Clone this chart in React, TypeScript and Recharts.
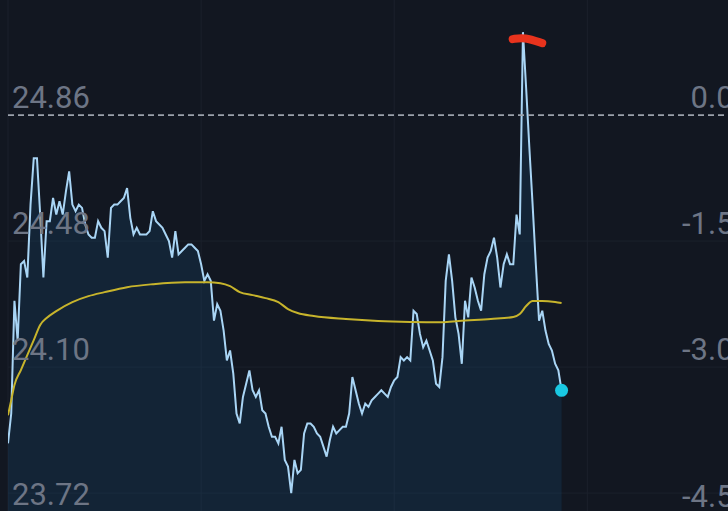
import React from "react";
import {
  ComposedChart,
  Area,
  Line,
  XAxis,
  YAxis,
  CartesianGrid,
  ReferenceLine,
  ReferenceDot,
} from "recharts";

// ---- data ----
const prevClose = 24.86;

// one price per minute, minute 0 .. 172
const prices = [
  23.87, 23.96, 24.30, 24.18, 24.41, 24.42, 24.37, 24.59, 24.73, 24.73,
  24.56, 24.37, 24.54, 24.54, 24.61, 24.56, 24.60, 24.56, 24.63, 24.69,
  24.59, 24.57, 24.59, 24.58, 24.53, 24.50, 24.49, 24.49, 24.54, 24.52,
  24.51, 24.43, 24.58, 24.59, 24.59, 24.60, 24.61, 24.64, 24.55, 24.50,
  24.52, 24.50, 24.50, 24.50, 24.51, 24.57, 24.54, 24.53, 24.52, 24.50,
  24.48, 24.43, 24.51, 24.44, 24.45, 24.46, 24.47, 24.47, 24.46, 24.45,
  24.41, 24.36, 24.38, 24.36, 24.24, 24.29, 24.27, 24.21, 24.12, 24.15,
  24.08, 23.96, 23.93, 24.01, 24.05, 24.09, 24.03, 24.01, 24.03, 23.97,
  23.96, 23.92, 23.89, 23.89, 23.87, 23.92, 23.82, 23.80, 23.72, 23.82,
  23.78, 23.79, 23.90, 23.93, 23.93, 23.92, 23.90, 23.89, 23.86, 23.83,
  23.88, 23.92, 23.90, 23.91, 23.92, 23.92, 23.96, 24.07, 24.03, 23.99,
  23.96, 23.99, 23.98, 24.00, 24.01, 24.02, 24.03, 24.02, 24.01, 24.04,
  24.06, 24.07, 24.13, 24.12, 24.13, 24.12, 24.27, 24.26, 24.20, 24.16,
  24.18, 24.15, 24.12, 24.05, 24.04, 24.13, 24.36, 24.44, 24.36, 24.25,
  24.20, 24.11, 24.30, 24.25, 24.37, 24.34, 24.30, 24.27, 24.38, 24.43,
  24.45, 24.49, 24.43, 24.34, 24.41, 24.44, 24.41, 24.41, 24.56, 24.50,
  25.11, 24.94, 24.76, 24.59, 24.41, 24.24, 24.27, 24.21, 24.17, 24.15,
  24.11, 24.09, 24.03,
];

// average price line (read at selected minutes)
const avgMinutes = [
  0, 1, 2, 4, 6, 8, 10, 12, 15, 20, 25, 30, 37, 45, 55, 62, 66, 69, 72, 76,
  80, 84, 87, 90, 95, 105, 115, 125, 135, 140, 150, 157, 159, 161, 163, 166,
  170, 172,
];
const avgValues = [
  23.955, 24.0, 24.046, 24.091, 24.136, 24.181, 24.227, 24.248, 24.269,
  24.296, 24.314, 24.326, 24.341, 24.35, 24.356, 24.356, 24.353, 24.344,
  24.326, 24.317, 24.308, 24.296, 24.275, 24.263, 24.254, 24.245, 24.239,
  24.236, 24.235, 24.239, 24.245, 24.251, 24.26, 24.284, 24.299, 24.299,
  24.296, 24.293,
];

const priceTicks = [24.86, 24.48, 24.1, 23.72];
const pctTicks = [0, -1.53, -3.06, -4.59];
const gridMinutes = [0, 60, 120, 180];
const gridPrices = [24.48, 24.1, 23.72];

// hand-drawn red annotation near the high
const markMinutes = [156.8, 160.5, 166];
const markValues = [25.089, 25.095, 25.077];

// ---- layout / style ----
const W = 728;
const H = 511;
const priceDomain: [number, number] = [23.666, 25.207];
const minuteDomain: [number, number] = [0, 223.4];
const pctDomain: [number, number] = [
  (priceDomain[0] / prevClose - 1) * 100,
  (priceDomain[1] / prevClose - 1) * 100,
];

const BG = "#121721";
const LABEL = "#6d7585";
const FONT = "Roboto, 'Noto Sans', sans-serif";

const avgMap = new Map<number, number>();
avgMinutes.forEach((m, i) => avgMap.set(m, avgValues[i]));

const rows = prices.map((p, i) => ({
  t: i,
  price: p,
  avg: avgMap.has(i) ? avgMap.get(i) : undefined,
}));

const markRows = markMinutes.map((m, i) => ({ t: m, mark: markValues[i] }));

const lastIdx = prices.length - 1;

const renderLeftTick = (props: any) => {
  const { y, payload } = props;
  const v = Number(payload.value);
  const isLast = Math.abs(v - priceTicks[priceTicks.length - 1]) < 1e-6;
  return (
    <text
      key={`l-${v}`}
      x={12}
      y={isLast ? y + 12 : y - 7}
      fill={LABEL}
      fontSize={31}
      fontFamily={FONT}
      textAnchor="start"
    >
      {v.toFixed(2)}
    </text>
  );
};

const renderRightTick = (props: any) => {
  const { y, payload } = props;
  const v = Number(payload.value);
  const isLast = Math.abs(v - pctTicks[pctTicks.length - 1]) < 1e-6;
  return (
    <text
      key={`r-${v}`}
      x={751}
      y={isLast ? y + 14 : y - 7}
      fill={LABEL}
      fontSize={31}
      fontFamily={FONT}
      textAnchor="end"
    >
      {v.toFixed(2)}
    </text>
  );
};

export default function App() {
  return (
    <div
      style={{
        position: "absolute",
        left: 0,
        top: 0,
        width: W,
        height: H,
        overflow: "hidden",
        background: BG,
      }}
    >
      <ComposedChart
        width={W}
        height={H}
        data={rows}
        margin={{ top: 0, right: 0, bottom: 0, left: 7 }}
      >
        <CartesianGrid
          yAxisId="price"
          stroke="#1b212c"
          strokeWidth={1}
          horizontalValues={gridPrices}
          verticalValues={gridMinutes}
        />
        <XAxis
          dataKey="t"
          type="number"
          domain={minuteDomain}
          allowDataOverflow
          hide
        />
        <YAxis
          yAxisId="price"
          orientation="left"
          type="number"
          domain={priceDomain}
          allowDataOverflow
          ticks={priceTicks}
          interval={0}
          width={1}
          axisLine={false}
          tickLine={false}
          tick={renderLeftTick}
        />
        <YAxis
          yAxisId="pct"
          orientation="right"
          type="number"
          domain={pctDomain}
          allowDataOverflow
          ticks={pctTicks}
          interval={0}
          width={1}
          axisLine={false}
          tickLine={false}
          tick={renderRightTick}
        />
        <Area
          yAxisId="price"
          dataKey="price"
          type="linear"
          stroke="#a9d5f5"
          strokeWidth={2}
          fill="#1b5a8c"
          fillOpacity={0.2}
          baseValue={priceDomain[0]}
          dot={false}
          activeDot={false}
          isAnimationActive={false}
        />
        <Line
          yAxisId="price"
          dataKey="avg"
          type="monotone"
          stroke="#c7b42c"
          strokeWidth={2}
          dot={false}
          activeDot={false}
          connectNulls
          isAnimationActive={false}
        />
        <ReferenceLine
          yAxisId="price"
          y={prevClose}
          stroke="#9ba1ab"
          strokeWidth={1.8}
          strokeDasharray="6 4"
        />
        <Line
          yAxisId="price"
          data={markRows}
          dataKey="mark"
          type="basis"
          stroke="#e8331d"
          strokeWidth={8}
          strokeLinecap="round"
          dot={false}
          activeDot={false}
          isAnimationActive={false}
        />
        <ReferenceDot
          yAxisId="price"
          x={lastIdx}
          y={prices[lastIdx]}
          r={6.5}
          fill="#19c8e2"
          stroke="none"
        />
      </ComposedChart>
    </div>
  );
}
